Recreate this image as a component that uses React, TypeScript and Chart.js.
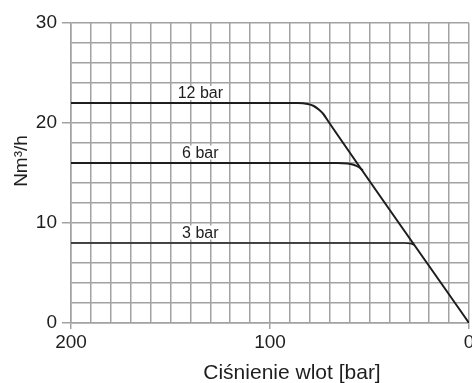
import React, { useEffect, useRef } from 'react';
import { Chart, registerables } from 'chart.js';

Chart.register(...registerables);

// Curves (inlet pressure [bar] -> flow [Nm³/h])
const curveLabels = ['12 bar', '6 bar', '3 bar'];
const pressure12 = [200, 86, 81, 78, 75.5, 73.2, 70.5, 0];
const flow12 = [22, 22, 21.9, 21.7, 21.35, 20.9, 20.1, 0];
const pressure6 = [200, 66, 61, 58, 55.5, 53.3];
const flow6 = [16, 16, 15.96, 15.82, 15.6, 15.25];
const pressure3 = [200, 32, 29.5, 27.4];
const flow3 = [8, 8, 7.95, 7.82];

// Curve label anchors
const labelPressure = [135, 135, 135];
const labelFlow = [23, 17.05, 9.05];

// Axes
const xMin = 0;
const xMax = 200;
const xStep = 10;
const xLabelEvery = 100;
const yMin = 0;
const yMax = 30;
const yStep = 2;
const yLabelEvery = 10;
const xTitle = 'Ciśnienie wlot [bar]';
const yTitle = 'Nm³/h';

const FONT = '"Liberation Sans", Arial, sans-serif';
const GRID = '#a2a2a2';
const INK = '#1e1e1e';

function toPoints(xs: number[], ys: number[]) {
  return xs.map((x, i) => ({ x, y: ys[i] }));
}

const overlayPlugin = {
  id: 'overlay',
  afterDraw(chart: any) {
    const { ctx, scales } = chart;
    const xs = scales.x;
    const ys = scales.y;
    ctx.save();
    ctx.font = `16px ${FONT}`;
    ctx.textAlign = 'center';
    ctx.textBaseline = 'middle';
    curveLabels.forEach((t, i) => {
      const px = xs.getPixelForValue(labelPressure[i]);
      const py = ys.getPixelForValue(labelFlow[i]);
      const w = ctx.measureText(t).width;
      ctx.fillStyle = '#ffffff';
      ctx.fillRect(px - w / 2 - 3, py - 7, w + 6, 14);
      ctx.fillStyle = INK;
      ctx.fillText(t, px, py + 1);
    });
    // axis titles
    ctx.fillStyle = INK;
    ctx.font = `21px ${FONT}`;
    ctx.textBaseline = 'alphabetic';
    const ca = chart.chartArea;
    ctx.fillText(xTitle, (ca.left + ca.right) / 2 + 22, 379);
    ctx.save();
    ctx.translate(27, (ca.top + ca.bottom) / 2 - 12);
    ctx.rotate(-Math.PI / 2);
    ctx.font = `19px ${FONT}`;
    ctx.textBaseline = 'alphabetic';
    ctx.fillText(yTitle, 0, 0);
    ctx.restore();
    ctx.restore();
  },
};

export default function App() {
  const ref = useRef<HTMLCanvasElement | null>(null);
  useEffect(() => {
    if (!ref.current) return;
    const line = (data: any, width: number) => ({
      data,
      borderColor: INK,
      borderWidth: width,
      pointRadius: 0,
      cubicInterpolationMode: 'monotone',
      fill: false,
    });
    const chart = new Chart(ref.current, {
      type: 'line',
      data: {
        datasets: [
          { label: curveLabels[0], ...line(toPoints(pressure12, flow12), 2) },
          { label: curveLabels[1], ...line(toPoints(pressure6, flow6), 2) },
          { label: curveLabels[2], ...line(toPoints(pressure3, flow3), 1.7) },
        ],
      },
      options: {
        animation: false,
        responsive: false,
        events: [],
        layout: { padding: { top: 23, right: 3, left: 0, bottom: 0 } },
        plugins: { legend: { display: false }, tooltip: { enabled: false } },
        scales: {
          x: {
            type: 'linear',
            min: xMin,
            max: xMax,
            reverse: true,
            border: { display: true, color: GRID, width: 1.5 },
            grid: {
              color: GRID,
              lineWidth: 1.5,
              tickLength: 6,
              tickColor: (c: any) =>
                c.tick && c.tick.value % xLabelEvery === 0 ? GRID : 'rgba(0,0,0,0)',
            },
            ticks: {
              stepSize: xStep,
              autoSkip: false,
              maxRotation: 0,
              padding: 2,
              color: INK,
              font: { family: FONT, size: 19 },
              callback: (v: any) => (Number(v) % xLabelEvery === 0 ? String(v) : ''),
            },
            afterFit: (s: any) => {
              s.height = 60;
              s.paddingLeft = 0;
              s.paddingRight = 0;
            },
          },
          y: {
            type: 'linear',
            min: yMin,
            max: yMax,
            border: { display: true, color: GRID, width: 1.5 },
            grid: {
              color: GRID,
              lineWidth: 1.5,
              tickLength: 9,
              tickColor: (c: any) =>
                c.tick && c.tick.value % yLabelEvery === 0 ? GRID : 'rgba(0,0,0,0)',
            },
            ticks: {
              stepSize: yStep,
              autoSkip: false,
              padding: 5,
              color: INK,
              font: { family: FONT, size: 19 },
              callback: (v: any) => (Number(v) % yLabelEvery === 0 ? String(v) : ''),
            },
            afterFit: (s: any) => {
              s.width = 71;
              s.paddingTop = 0;
              s.paddingBottom = 0;
            },
          },
        },
      },
      plugins: [overlayPlugin],
    } as any);
    return () => chart.destroy();
  }, []);
  return (
    <div style={{ position: 'fixed', left: 0, top: 0, width: 472, height: 383, background: '#fff' }}>
      <canvas ref={ref} width={472} height={383} style={{ display: 'block' }} />
    </div>
  );
}
